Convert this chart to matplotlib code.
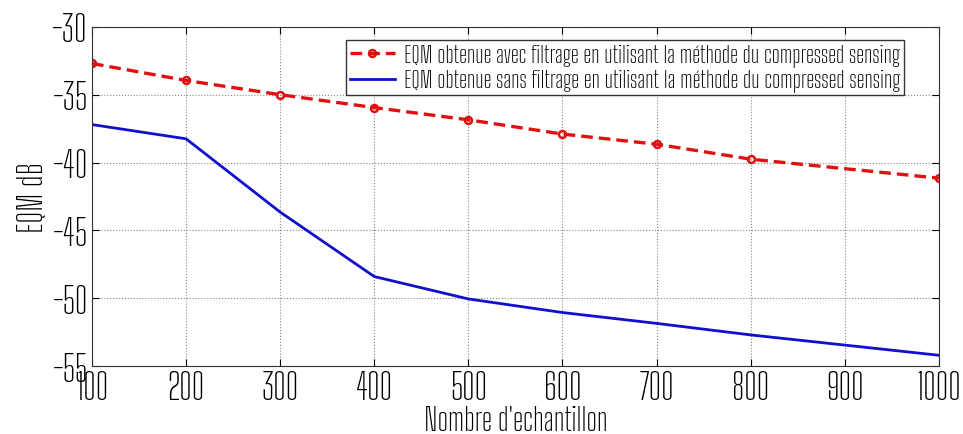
import matplotlib
matplotlib.use('Agg')
from matplotlib import pyplot as plt

# valeurs
x_avec = [100, 200, 300, 400, 500, 600, 700, 800, 1000]
eqm_avec = [-32.7, -33.95, -35.0, -35.95, -36.85, -37.9, -38.65, -39.75, -41.15]
x_sans = [100, 200, 300, 400, 500, 600, 700, 800, 900, 1000]
eqm_sans = [-37.2, -38.25, -43.65, -48.4, -50.05, -51.05, -51.85, -52.7, -53.45, -54.2]
xticks = [100, 200, 300, 400, 500, 600, 700, 800, 900, 1000]
yticks = [-55, -50, -45, -40, -35, -30]

plt.rcParams['font.family'] = ['Big Shoulders Text', 'Liberation Sans Narrow', 'DejaVu Sans']
plt.rcParams['axes.unicode_minus'] = False

fig = plt.figure(figsize=(9.63, 4.35), dpi=100)
ax = fig.add_axes([0.0955, 0.156, 0.8795, 0.78])

ax.plot(x_avec, eqm_avec, '--o', color='#e01010', lw=2.4, ms=5,
        mfc='none', mew=1.8, dashes=(3.5, 1.8),
        label="EQM obtenue avec filtrage en utilisant la méthode du compressed sensing")
ax.plot(x_sans, eqm_sans, '-', color='#1010cc', lw=2,
        label="EQM obtenue sans filtrage en utilisant la méthode du compressed sensing")

ax.set_xlim(100, 1000)
ax.set_ylim(-55, -30)
ax.set_xticks(xticks)
ax.set_yticks(yticks)
ax.tick_params(direction='in', top=True, right=True, labelsize=26, length=5, pad=3)
ax.grid(True, ls=':', color='#888888', lw=0.8)
for s in ax.spines.values():
    s.set_color('#333333')

ax.set_xlabel("Nombre d'echantillon", fontsize=22, labelpad=-1)
ax.set_ylabel("EQM dB", fontsize=24, labelpad=2)

leg = ax.legend(loc='upper right', fontsize=17, fancybox=False,
                edgecolor='#333333', framealpha=1, borderpad=0.15,
                handlelength=1.9, labelspacing=0.1, handletextpad=0.4,
                bbox_to_anchor=(0.973, 0.996))
leg.get_frame().set_linewidth(1)

fig.savefig('out.png', dpi=100)
